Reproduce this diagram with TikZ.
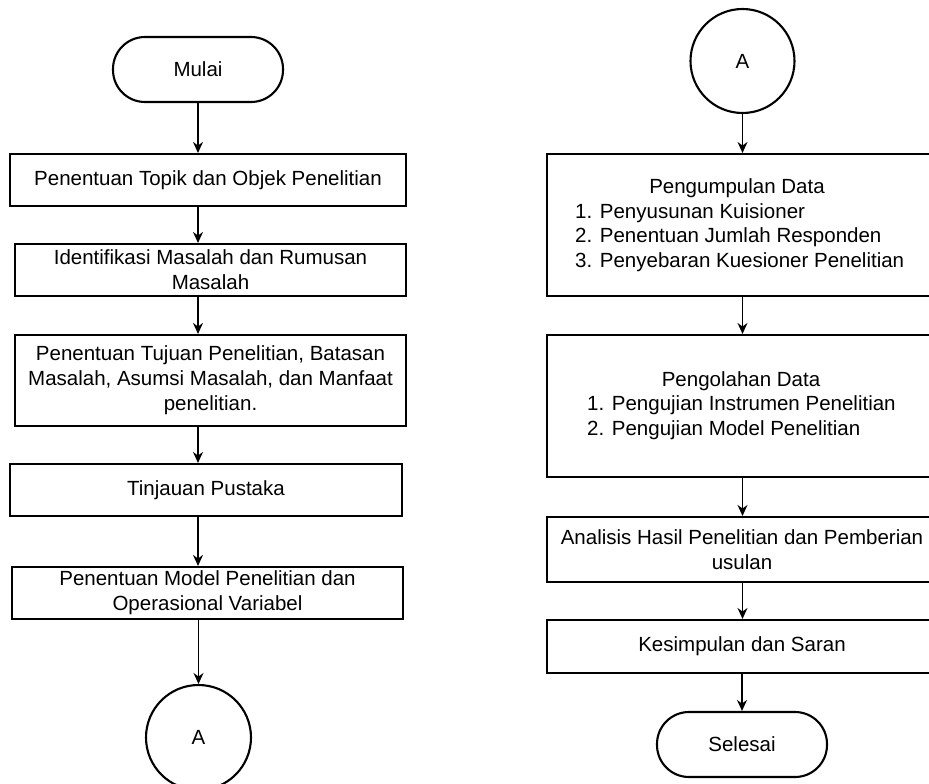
\documentclass[tikz,border=0pt]{standalone}
\usepackage{fontspec}
\setmainfont{Liberation Sans}
\usetikzlibrary{arrows.meta}
\begin{document}
\begin{tikzpicture}[x=1pt,y=-1pt,
  every node/.style={font=\fontsize{20.5}{25}\selectfont, inner sep=0pt},
  box/.style={draw, line width=2.1pt, rectangle, align=center},
  term/.style={draw, line width=2.1pt, rectangle, rounded corners=32pt, minimum width=170pt, minimum height=65pt},
  conn/.style={draw, circle, line width=2.1pt, minimum size=105pt},
  arr/.style={-{Stealth[length=11pt,width=10pt]}, line width=1.3pt}]
\useasboundingbox (0,0) rectangle (929,784);
\fill[white] (0,0) rectangle (929,784);
\clip (0,0) rectangle (929,784);

% left column
\node[term] (mulai) at (198,69.5) {Mulai};
\node[box, minimum width=396pt, minimum height=52pt] (b1) at (208,180) {Penentuan Topik dan Objek Penelitian};
\node[box, minimum width=391pt, minimum height=52pt] (b2) at (210.5,270) {Identifikasi Masalah dan Rumusan\\Masalah};
\node[box, minimum width=391pt, minimum height=91pt] (b3) at (210.5,380.5) {Penentuan Tujuan Penelitian, Batasan\\Masalah, Asumsi Masalah, dan Manfaat\\penelitian.};
\node[box, minimum width=392pt, minimum height=52pt] (b4) at (206,490) {Tinjauan Pustaka};
\node[box, minimum width=391pt, minimum height=52pt] (b5) at (207.5,593) {Penentuan Model Penelitian dan\\Operasional Variabel};
\node[conn] (a1) at (198.5,737.5) {A};

\draw[arr] (mulai) -- (b1.north -| mulai);
\draw[arr] (b1.south -| mulai) -- (b2.north -| mulai);
\draw[arr] (b2.south -| mulai) -- (b3.north -| mulai);
\draw[arr] (b3.south -| mulai) -- (b4.north -| mulai);
\draw[arr] (b4.south -| mulai) -- (b5.north -| mulai);
\draw[arr] (b5.south -| a1) -- (a1);

% right column
\node[conn, minimum size=104pt] (a2) at (742.5,61) {A};
\node[box, minimum width=390pt, minimum height=142pt] (c1) at (742,225) {};
\node (c1t) at (737,188) {Pengumpulan Data};
\node[anchor=west] (c1a) at (575,213) {1. Penyusunan Kuisioner};
\node[anchor=west] (c1b) at (575,237.5) {2. Penentuan Jumlah Responden};
\node[anchor=west] (c1c) at (575,262) {3. Penyebaran Kuesioner Penelitian};

\node[box, minimum width=390pt, minimum height=142pt] (c2) at (742,406) {};
\node (c2t) at (741,381) {Pengolahan Data};
\node[anchor=west] (c2a) at (587,405.5) {1. Pengujian Instrumen Penelitian};
\node[anchor=west] (c2b) at (587,430) {2. Pengujian Model Penelitian};

\node[box, minimum width=390pt, minimum height=65pt] (c3) at (742,549.5) {Analisis Hasil Penelitian dan Pemberian\\usulan};
\node[box, minimum width=390pt, minimum height=53pt] (c4) at (742,646.5) {Kesimpulan dan Saran};
\node[term] (selesai) at (742,744.5) {Selesai};

\draw[arr] (a2) -- (c1.north -| a2);
\draw[arr] (c1.south -| a2) -- (c2.north -| a2);
\draw[arr] (c2.south -| a2) -- (c3.north -| a2);
\draw[arr] (c3.south -| a2) -- (c4.north -| a2);
\draw[arr] (c4.south -| selesai) -- (selesai);
\end{tikzpicture}
\end{document}
